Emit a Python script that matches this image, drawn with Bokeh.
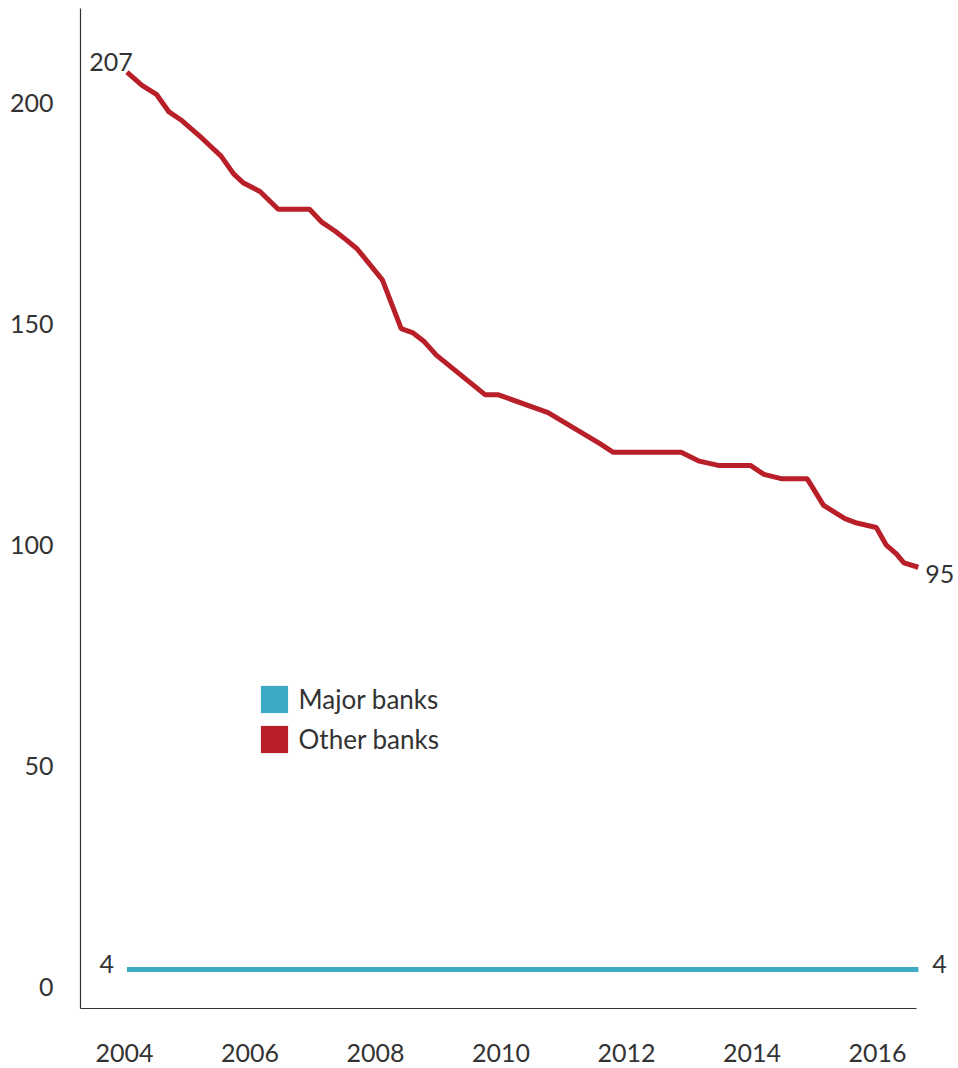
from bokeh.plotting import figure
from bokeh.models import Label, Legend, LegendItem, FixedTicker, Range1d
from bokeh.embed import file_html
from bokeh.resources import INLINE

# Number of banks, by date (decimal years)
years_other = [2004.04, 2004.28, 2004.51, 2004.71, 2004.92, 2005.24, 2005.54, 2005.74,
               2005.89, 2006.16, 2006.45, 2006.95, 2007.15, 2007.36, 2007.54, 2007.71,
               2008.11, 2008.41, 2008.60, 2008.78, 2008.97, 2009.75, 2009.96, 2010.75,
               2011.57, 2011.79, 2012.87, 2013.16, 2013.48, 2013.98, 2014.19, 2014.48,
               2014.88, 2015.14, 2015.48, 2015.67, 2015.98, 2016.14, 2016.30, 2016.42,
               2016.65]
other_banks = [207, 204, 202, 198, 196, 192, 188, 184,
               182, 180, 176, 176, 173, 171, 169, 167,
               160, 149, 148, 146, 143, 134, 134, 130,
               123, 121, 121, 119, 118, 118, 116, 115,
               115, 109, 106, 105, 104, 100, 98, 96,
               95]
years_major = [2004.04, 2016.65]
major_banks = [4, 4]

x_ticks = [2004, 2006, 2008, 2010, 2012, 2014, 2016]
y_ticks = [0, 50, 100, 150, 200]

RED = "#B91F28"
BLUE = "#3BAAC2"
INK = "#333333"
FONT = "Lato"

X_START, X_AXIS_END, X_END = 2003.30, 2016.62, 2017.29

p = figure(width=958, height=1068, output_backend="svg", toolbar_location=None,
           x_range=Range1d(X_START, X_END), y_range=Range1d(-4.82, 221.4),
           min_border_left=80, min_border_right=0, min_border_top=8,
           min_border_bottom=60)
p.outline_line_color = None
p.grid.visible = False
p.background_fill_color = "white"
p.border_fill_color = "white"

for ax in (p.xaxis[0], p.yaxis[0]):
    ax.axis_line_color = INK
    ax.axis_line_width = 1.2
    ax.major_tick_line_color = None
    ax.minor_tick_line_color = None
    ax.major_tick_in = 0
    ax.major_tick_out = 0
    ax.major_label_text_font = FONT
    ax.major_label_text_font_size = "25px"
    ax.major_label_text_color = INK

# the x axis line stops short of the right edge, leaving room for end labels
p.xaxis.bounds = (X_START, X_AXIS_END)
p.xaxis.ticker = FixedTicker(ticks=x_ticks)
p.yaxis.ticker = FixedTicker(ticks=y_ticks)
p.xaxis.major_label_standoff = 35
p.yaxis.major_label_standoff = 27

r_major = p.line(years_major, major_banks, line_color=BLUE, line_width=5)
r_other = p.line(years_other, other_banks, line_color=RED, line_width=5)

# zero-area quads at each series' first point: invisible on the plot,
# but they give the legend filled square swatches
sw_major = p.quad(left=years_major[:1], right=years_major[:1],
                  top=major_banks[:1], bottom=major_banks[:1],
                  fill_color=BLUE, line_color=None)
sw_other = p.quad(left=years_other[:1], right=years_other[:1],
                  top=other_banks[:1], bottom=other_banks[:1],
                  fill_color=RED, line_color=None)

legend = Legend(items=[LegendItem(label="Major banks", renderers=[sw_major]),
                       LegendItem(label="Other banks", renderers=[sw_other])],
                location=(176.6, 251.6), orientation="vertical",
                padding=0, margin=0, spacing=6,
                glyph_width=34, glyph_height=34, label_height=34,
                label_standoff=8, label_text_font=FONT,
                label_text_font_size="26px", label_text_color=INK,
                border_line_color=None, background_fill_alpha=0)
p.add_layout(legend)


def end_label(x, y, text, **kw):
    p.add_layout(Label(x=x, y=y, text=text, text_font=FONT, text_color=INK,
                       text_font_size="25px", **kw))


end_label(years_other[0], other_banks[0], str(other_banks[0]),
          text_align="center", text_baseline="alphabetic", x_offset=-16, y_offset=10)
end_label(years_other[-1], other_banks[-1], str(other_banks[-1]),
          text_align="left", text_baseline="middle", x_offset=7, y_offset=-7)
end_label(years_major[0], major_banks[0], str(major_banks[0]),
          text_align="right", text_baseline="middle", x_offset=-13, y_offset=6)
end_label(years_major[-1], major_banks[-1], str(major_banks[-1]),
          text_align="left", text_baseline="middle", x_offset=14, y_offset=6)

open("out.html", "w").write(file_html(p, INLINE))
